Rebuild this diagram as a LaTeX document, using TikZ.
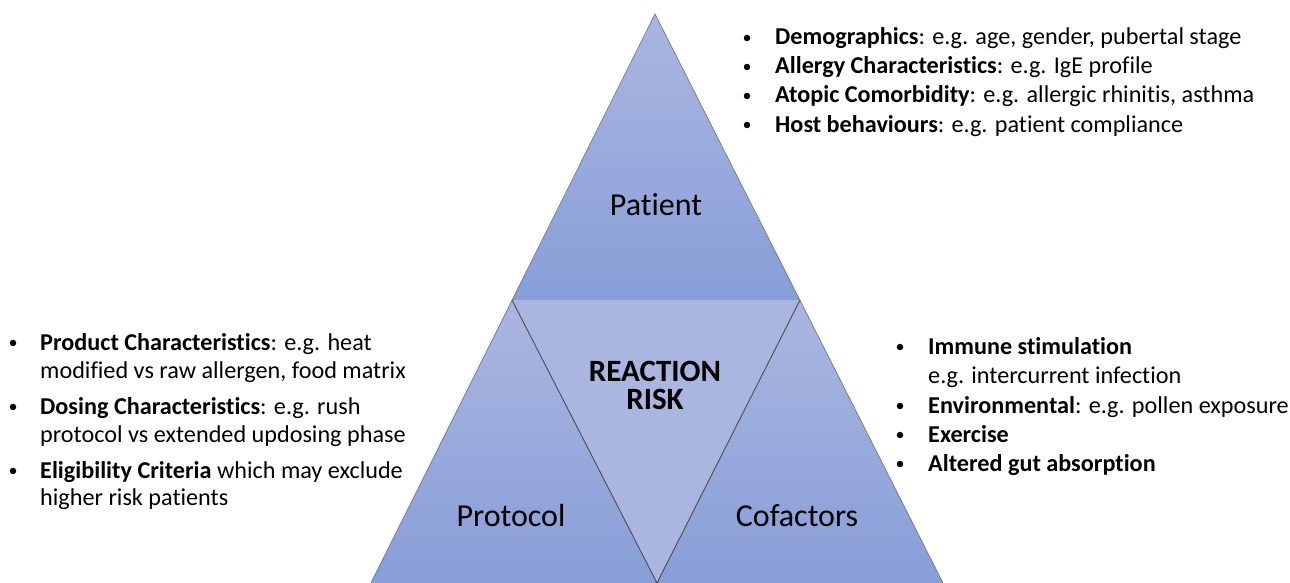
\documentclass[tikz,border=0pt]{standalone}
\usepackage{fontspec}
\setmainfont{Carlito}[Ligatures=NoCommon]
\definecolor{lightb}{RGB}{170,182,224}
\definecolor{darkb}{RGB}{136,158,216}
\definecolor{edge}{RGB}{110,120,155}
\tikzset{
  bul/.style={circle, fill=black, inner sep=0pt, minimum size=6.5pt},
  itm/.style={anchor=base west, inner sep=0pt, font=\fontsize{24.2}{28}\selectfont},
  big/.style={anchor=center, inner sep=0pt, font=\fontsize{32}{34}\selectfont},
  bigb/.style={anchor=base, inner sep=0pt, text height=22pt, text depth=0pt, font=\fontsize{31}{34}\selectfont\bfseries},
  grad/.style={top color=lightb, bottom color=darkb},
  outer/.style={draw=edge, line width=0.7pt},
  inner/.style={draw=black!70, line width=0.9pt}
}
\begin{document}
\begin{tikzpicture}[x=1pt,y=-1pt]
\useasboundingbox (0,0) rectangle (1290,583);
\fill[white] (0,0) rectangle (1290,583);
\coordinate (A) at (655,14);
\coordinate (ML) at (512,300);
\coordinate (MR) at (800,300);
\coordinate (BL) at (371,583);
\coordinate (BR) at (943,583);
\coordinate (BM) at (657,583);
% triangles
\shade[grad] (A) -- (ML) -- (MR) -- cycle;
\fill[lightb] (ML) -- (MR) -- (BM) -- cycle;
\shade[grad] (ML) -- (BL) -- (BM) -- cycle;
\shade[grad] (MR) -- (BM) -- (BR) -- cycle;
\draw[outer] (BL) -- (A) -- (BR);
\draw[inner] (ML) -- (BM) -- (MR);
% labels
\node[big] (pat) at (656,205) {Patient};
\node[bigb] (rr1) at (655,381) {REACTION};
\node[bigb] (rr2) at (655,409) {RISK};
\node[big] (pro) at (511,516) {Protocol};
\node[big] (cof) at (797,516) {Cofactors};
% top list
\node[bul] (tb1) at (747,38) {};
\node[itm] (t1) at (775,45) {\textbf{Demographics}: e.g. age, gender, pubertal stage};
\node[bul] (tb2) at (747,67) {};
\node[itm] (t2) at (775,74) {\textbf{Allergy Characteristics}: e.g. IgE profile};
\node[bul] (tb3) at (747,96) {};
\node[itm] (t3) at (775,103) {\textbf{Atopic Comorbidity}: e.g. allergic rhinitis, asthma};
\node[bul] (tb4) at (747,125) {};
\node[itm] (t4) at (775,132) {\textbf{Host behaviours}: e.g. patient compliance};
% left list
\node[bul] (lb1) at (13,343) {};
\node[itm] (l1a) at (40,350) {\textbf{Product Characteristics}: e.g. heat};
\node[itm] (l1b) at (40,378) {modified vs raw allergen, food matrix};
\node[bul] (lb2) at (13,407) {};
\node[itm] (l2a) at (40,414) {\textbf{Dosing Characteristics}: e.g. rush};
\node[itm] (l2b) at (40,442) {protocol vs extended updosing phase};
\node[bul] (lb3) at (13,471) {};
\node[itm] (l3a) at (40,478) {\textbf{Eligibility Criteria} which may exclude};
\node[itm] (l3b) at (40,505) {higher risk patients};
% right list
\node[bul] (rb1) at (900,347) {};
\node[itm] (r1a) at (928,354) {\textbf{Immune stimulation}};
\node[itm] (r1b) at (928,383) {e.g. intercurrent infection};
\node[bul] (rb2) at (900,406) {};
\node[itm] (r2) at (928,413) {\textbf{Environmental}: e.g. pollen exposure};
\node[bul] (rb3) at (900,435) {};
\node[itm] (r3) at (928,442) {\textbf{Exercise}};
\node[bul] (rb4) at (900,464) {};
\node[itm] (r4) at (928,471) {\textbf{Altered gut absorption}};
\end{tikzpicture}
\end{document}
